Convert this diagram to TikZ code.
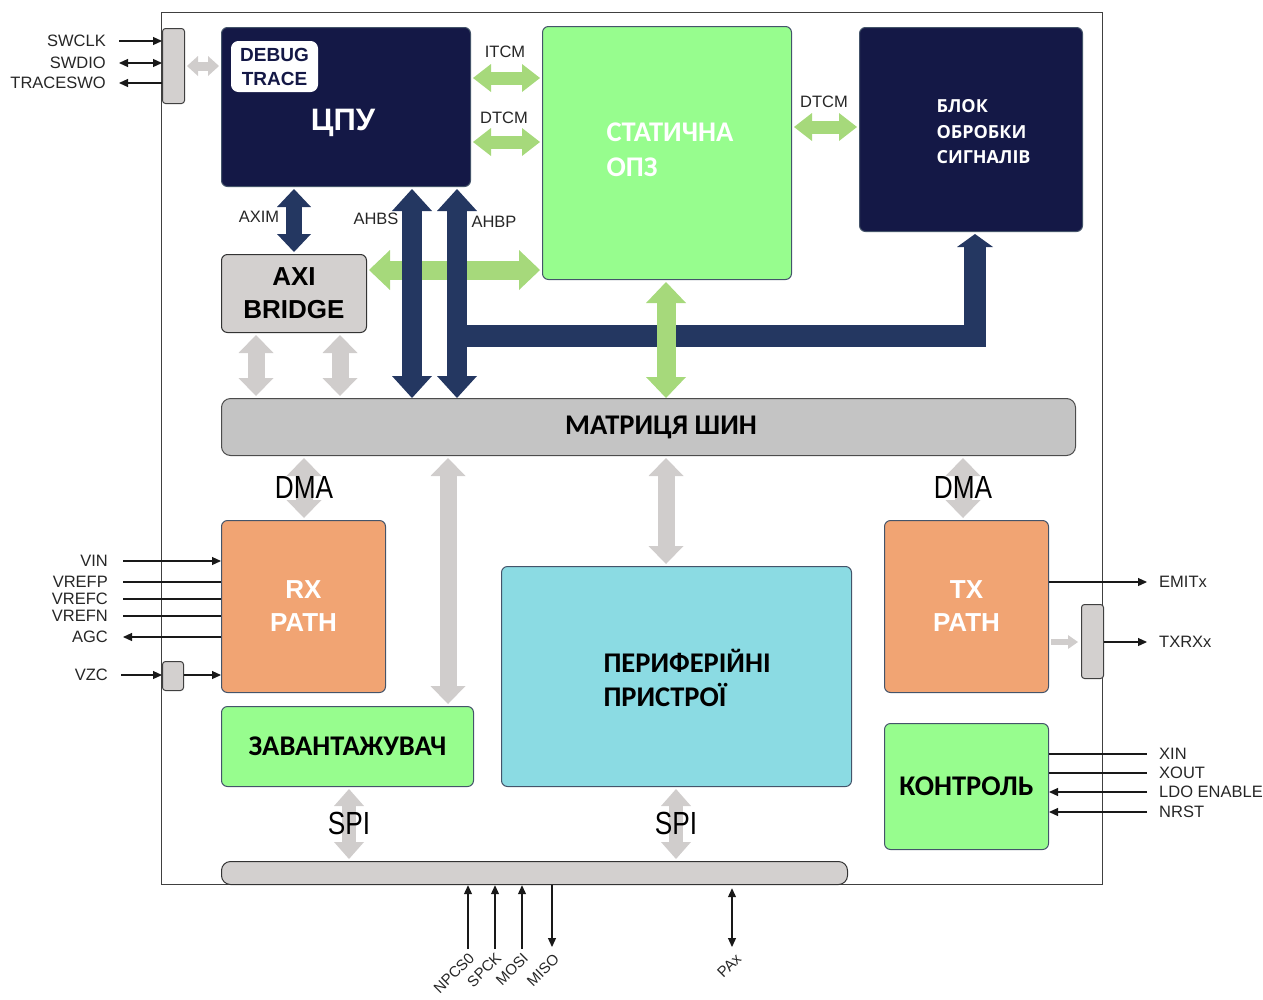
\documentclass[tikz,border=0pt]{standalone}
\usepackage{fontspec}
\setmainfont{Liberation Sans}
\newfontfamily\calfont{Carlito}
\newfontfamily\openfont{Open Sans}
\newfontfamily\narrowfont[FakeStretch=0.82]{Liberation Sans}
\usetikzlibrary{arrows.meta,positioning}

\definecolor{navybox}{HTML}{141846}
\definecolor{navyarr}{HTML}{243761}
\definecolor{greenbox}{HTML}{97FD8E}
\definecolor{greenarr}{HTML}{A6D97B}
\definecolor{grayarr}{HTML}{D0CDCC}
\definecolor{graybox}{HTML}{D3D0CF}
\definecolor{busgray}{HTML}{C4C4C4}
\definecolor{orangebox}{HTML}{F1A473}
\definecolor{cyanbox}{HTML}{8BDBE3}
\definecolor{boxedge}{HTML}{44546A}

\newcommand{\fsz}[2]{\fontsize{#1}{#2}\selectfont}

\begin{document}
\begin{tikzpicture}[
  x=1pt,y=-1pt,
  blk/.style={draw=boxedge,line width=1pt,rounded corners=6pt,anchor=north west,inner sep=0pt,align=center},
  cpublk/.style={blk,fill=navybox},
  ramblk/.style={blk,fill=greenbox},
  pathblk/.style={blk,fill=orangebox,text=white,font=\bfseries\fsz{26}{33}},
  portblk/.style={blk,fill=graybox,draw=black!75,rounded corners=3pt},
  sig/.style={draw=black!90,line width=1.2pt},
  tipr/.style={-{Triangle[width=8pt,length=9pt]}},
  tipb/.style={{Triangle[width=8pt,length=9pt]}-{Triangle[width=8pt,length=9pt]}},
  lbl/.style={font=\fsz{16.5}{18},text=black!85,inner sep=1pt},
  pinlbl/.style={font=\fsz{15}{16},text=black!85,inner sep=0.5pt,anchor=east,rotate=45},
  bigtxt/.style={font=\narrowfont\fsz{32}{34},inner sep=0pt},
  fat/.style n args={4}{draw=#1,line width=#2,shorten <=2pt,shorten >=2pt,
    {Triangle[width=#3,length=#4,line width=0pt]}-{Triangle[width=#3,length=#4,line width=0pt]}},
  navyfat/.style={fat={navyarr}{20pt}{40pt}{22pt}},
  greenfat/.style={fat={greenarr}{19pt}{40pt}{21pt}},
  greenthin/.style={fat={greenarr}{13pt}{28pt}{18pt}},
  grayfat/.style={fat={grayarr}{17pt}{35pt}{18pt}}
]
\useasboundingbox (0,0) rectangle (1263,999);

% chip outline
\node[draw=black!75,line width=1.2pt,anchor=north west,inner sep=0pt,minimum width=941pt,minimum height=872pt] (chip) at (161,12) {};

% blocks
\node[cpublk,minimum width=249pt,minimum height=159pt] (cpu) at (221,27) {};
\node[blk,fill=white,draw=white,rounded corners=7pt,minimum width=86pt,minimum height=50pt,text=navybox,font=\bfseries\fsz{19}{24}] (trace) at (231,41) {DEBUG\\TRACE};
\node[text=white,font=\bfseries\fsz{31}{34}] (cpulbl) at (343,123) {ЦПУ};

\node[ramblk,minimum width=249pt,minimum height=253pt] (sram) at (542,26) {};
\node[anchor=west,align=left,text=white,font=\calfont\bfseries\fsz{28.5}{35}] (sramlbl) at (603,150) {СТАТИЧНА\\ОПЗ};

\node[cpublk,minimum width=223pt,minimum height=204pt] (dsp) at (859,27) {};
\node[anchor=west,align=left,text=white,font=\openfont\bfseries\fsz{18}{25.5}] (dsplbl) at (933,132) {БЛОК\\ОБРОБКИ\\СИГНАЛІВ};

\node[blk,fill=graybox,draw=black!80,minimum width=145pt,minimum height=78pt,font=\bfseries\fsz{26}{33}] (axi) at (221,254) {AXI\\BRIDGE};
\node[blk,fill=busgray,draw=black!70,rounded corners=9pt,minimum width=854pt,minimum height=57pt] (bus) at (221,398) {};
\node[font=\calfont\bfseries\fsz{28.5}{30}] (buslbl) at (661,427) {МАТРИЦЯ ШИН};

\node[pathblk,minimum width=164pt,minimum height=172pt] (rx) at (221,520) {RX\\PATH};
\node[pathblk,minimum width=164pt,minimum height=172pt] (tx) at (884,520) {TX\\PATH};

\node[ramblk,minimum width=252pt,minimum height=80pt,font=\calfont\bfseries\fsz{28.5}{30}] (loader) at (221,706) {ЗАВАНТАЖУВАЧ};
\node[blk,fill=cyanbox,minimum width=350pt,minimum height=220pt] (periph) at (501,566) {};
\node[anchor=west,align=left,font=\calfont\bfseries\fsz{28.5}{34}] (periphlbl) at (600,678) {ПЕРИФЕРІЙНІ\\ПРИСТРОЇ};
\node[ramblk,minimum width=164pt,minimum height=126pt,font=\calfont\bfseries\fsz{28.5}{30}] (ctrl) at (884,723) {КОНТРОЛЬ};

\node[portblk,minimum width=22pt,minimum height=75pt] (dbgport) at (162,28) {};
\node[portblk,minimum width=21pt,minimum height=29pt] (vzcport) at (162,661) {};
\node[portblk,minimum width=22pt,minimum height=74pt] (txport) at (1081,604) {};
\node[blk,fill=graybox,draw=black!80,rounded corners=9pt,minimum width=626pt,minimum height=23pt] (spibus) at (221,861) {};

% bus lanes
\coordinate (itcm) at (505,78);
\coordinate (dtcm) at (505,142);
\coordinate (dtcmb) at (826,127);
\coordinate (axim) at (294,220);
\coordinate (ahbs) at (412,290);
\coordinate (ahbp) at (457,290);
\coordinate (axiram) at (450,270);
\coordinate (ramlink) at (666,340);
\coordinate (brga) at (256,365);
\coordinate (brgb) at (340,365);
\coordinate (dmarx) at (304,487);
\coordinate (ldlink) at (448,580);
\coordinate (perlink) at (666,510);
\coordinate (dmatx) at (963,487);
\coordinate (spia) at (349,823);
\coordinate (spib) at (676,823);
\coordinate (tap) at (457,336);
\coordinate (dspin) at (975,231);

\draw[fat={grayarr}{9pt}{20pt}{11pt}] (dbgport.east) -- (dbgport.east -| cpu.west);
\draw[grayfat] (axi.south -| brga) -- (bus.north -| brga);
\draw[grayfat] (axi.south -| brgb) -- (bus.north -| brgb);
\draw[grayfat] (bus.south -| dmarx) -- (rx.north -| dmarx);
\draw[grayfat] (bus.south -| ldlink) -- (loader.north -| ldlink);
\draw[grayfat] (bus.south -| perlink) -- (periph.north -| perlink);
\draw[grayfat] (bus.south -| dmatx) -- (tx.north -| dmatx);
\draw[fat={grayarr}{14pt}{30pt}{17pt}] (loader.south -| spia) -- (spibus.north -| spia);
\draw[fat={grayarr}{14pt}{30pt}{17pt}] (periph.south -| spib) -- (spibus.north -| spib);
\draw[greenfat] (axi.east |- axiram) -- (sram.west |- axiram);

\draw[fat={navyarr}{16pt}{34pt}{18pt}] (cpu.south -| axim) -- (axi.north -| axim);
\draw[navyfat,shorten >=0pt] (cpu.south -| ahbs) -- (bus.north -| ahbs);
\draw[navyfat,shorten >=0pt] (cpu.south -| ahbp) -- (bus.north -| ahbp);
\draw[navyarr,line width=22pt,shorten >=3pt,-{Triangle[width=36pt,length=13pt,line width=0pt]}] (tap) -| (dspin);

\draw[greenfat,shorten >=0pt] (sram.south -| ramlink) -- (bus.north -| ramlink);
\draw[greenthin] (cpu.east |- itcm) -- (sram.west |- itcm);
\draw[greenthin] (cpu.east |- dtcm) -- (sram.west |- dtcm);
\draw[greenthin] (sram.east |- dtcmb) -- (dsp.west |- dtcmb);

\node[lbl] (itcmlbl) at (505,52) {ITCM};
\node[lbl] (dtcmlbl) at (504,118) {DTCM};
\node[lbl] (dtcmblbl) at (824,102) {DTCM};
\node[lbl] (aximlbl) at (259,217) {AXIM};
\node[lbl] (ahbslbl) at (376,219) {AHBS};
\node[lbl] (ahbplbl) at (494,222) {AHBP};
\node[bigtxt] (dmarxlbl) at (dmarx) {DMA};
\node[bigtxt] (dmatxlbl) at (dmatx) {DMA};
\node[bigtxt] (spialbl) at (spia) {SPI};
\node[bigtxt] (spiblbl) at (spib) {SPI};

% debug pins
\node[lbl,anchor=east] (swclk) at (107,41) {SWCLK};
\node[lbl,anchor=east] (swdio) at (107,63) {SWDIO};
\node[lbl,anchor=east] (traceswo) at (107,83) {TRACESWO};
\draw[sig,tipr] ([xshift=12pt]swclk.east) -- (swclk -| dbgport.west);
\draw[sig,tipb] ([xshift=12pt]swdio.east) -- (swdio -| dbgport.west);
\draw[sig,tipr] (traceswo -| dbgport.west) -- ([xshift=12pt]traceswo.east);

% analog inputs
\node[lbl,anchor=east] (vin) at (109,561) {VIN};
\node[lbl,anchor=east] (vrefp) at (109,582) {VREFP};
\node[lbl,anchor=east] (vrefc) at (109,599) {VREFC};
\node[lbl,anchor=east] (vrefn) at (109,616) {VREFN};
\node[lbl,anchor=east] (agc) at (109,637) {AGC};
\node[lbl,anchor=east] (vzc) at (109,675) {VZC};
\draw[sig,tipr] ([xshift=14pt]vin.east) -- (vin -| rx.west);
\draw[sig] ([xshift=14pt]vrefp.east) -- (vrefp -| rx.west);
\draw[sig] ([xshift=14pt]vrefc.east) -- (vrefc -| rx.west);
\draw[sig] ([xshift=14pt]vrefn.east) -- (vrefn -| rx.west);
\draw[sig,tipr] (agc -| rx.west) -- ([xshift=14pt]agc.east);
\draw[sig,tipr] ([xshift=12pt]vzc.east) -- (vzc -| vzcport.west);
\draw[sig,tipr] (vzc -| vzcport.east) -- (vzc -| rx.west);

% tx outputs
\node[lbl,anchor=west] (emit) at (1158,582) {EMITx};
\node[lbl,anchor=west] (txrx) at (1158,642) {TXRXx};
\draw[sig,tipr] (emit -| tx.east) -- ([xshift=-11pt]emit.west);
\draw[grayarr,line width=6pt,shorten <=2pt,shorten >=3pt,-{Triangle[width=14pt,length=10pt,line width=0pt]}] (txrx -| tx.east) -- (txrx -| txport.west);
\draw[sig,tipr] (txrx -| txport.east) -- ([xshift=-11pt]txrx.west);

% control pins
\node[lbl,anchor=west] (xin) at (1158,754) {XIN};
\node[lbl,anchor=west] (xout) at (1158,773) {XOUT};
\node[lbl,anchor=west] (ldo) at (1158,792) {LDO ENABLE};
\node[lbl,anchor=west] (nrst) at (1158,812) {NRST};
\draw[sig] (xin -| ctrl.east) -- ([xshift=-11pt]xin.west);
\draw[sig] (xout -| ctrl.east) -- ([xshift=-11pt]xout.west);
\draw[sig,tipr] ([xshift=-11pt]ldo.west) -- (ldo -| ctrl.east);
\draw[sig,tipr] ([xshift=-11pt]nrst.west) -- (nrst -| ctrl.east);

% spi / gpio pins
\coordinate (npcs) at (468,949);
\coordinate (spck) at (495,949);
\coordinate (mosi) at (522,949);
\coordinate (miso) at (552,947);
\coordinate (pax) at (732,947);
\draw[sig,tipr] (npcs) -- (npcs |- chip.south);
\draw[sig,tipr] (spck) -- (spck |- chip.south);
\draw[sig,tipr] (mosi) -- (mosi |- chip.south);
\draw[sig,tipr] (miso |- chip.south) -- (miso);
\draw[sig,tipb,shorten <=3pt] (pax |- chip.south) -- (pax);
\node[pinlbl] (npcslbl) at ([shift={(4pt,-6pt)}]npcs) {NPCS0};
\node[pinlbl] (spcklbl) at ([shift={(4pt,-6pt)}]spck) {SPCK};
\node[pinlbl] (mosilbl) at ([shift={(4pt,-6pt)}]mosi) {MOSI};
\node[pinlbl] (misolbl) at ([shift={(5pt,-9pt)}]miso) {MISO};
\node[pinlbl] (paxlbl) at ([shift={(7pt,-9pt)}]pax) {PAx};
\end{tikzpicture}
\end{document}
